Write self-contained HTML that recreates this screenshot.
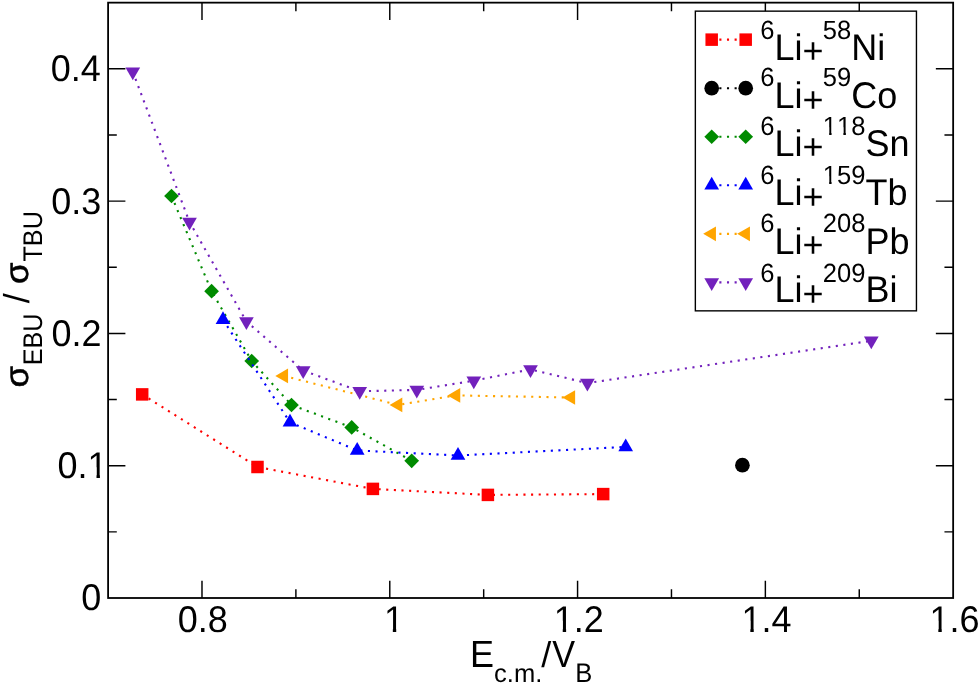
<!DOCTYPE html>
<html><head><meta charset="utf-8"><title>chart</title>
<style>html,body{margin:0;padding:0;background:#fff;}svg{display:block;will-change:transform;}svg text{text-rendering:geometricPrecision;}</style>
</head><body>
<svg width="979" height="684" viewBox="0 0 979 684">
<rect x="0" y="0" width="979" height="684" fill="#ffffff"/>
<defs><clipPath id="c1a"><rect x="-1" y="-36.00" width="13.35" height="25.45"/><rect x="8.93" y="-36.00" width="3.42" height="38.00"/></clipPath><clipPath id="c1b"><rect x="-1" y="-25.56" width="9.81" height="18.07"/><rect x="6.31" y="-25.56" width="2.50" height="27.56"/></clipPath></defs>
<g>
<polyline points="142.2,394.4 257.5,467.0 372.9,488.9 487.9,494.9 603.2,494.1" fill="none" stroke="#ff0000" stroke-width="2.1" stroke-dasharray="2.1 5.53"/>
<rect x="135.95" y="388.15" width="12.49" height="12.49" fill="#ff0000"/>
<rect x="251.25" y="460.75" width="12.49" height="12.49" fill="#ff0000"/>
<rect x="366.65" y="482.65" width="12.49" height="12.49" fill="#ff0000"/>
<rect x="481.65" y="488.65" width="12.49" height="12.49" fill="#ff0000"/>
<rect x="596.95" y="487.85" width="12.49" height="12.49" fill="#ff0000"/>
</g>
<g>
<circle cx="742.40" cy="465.20" r="7.35" fill="#000000"/>
</g>
<g>
<polyline points="171.5,196.0 211.6,291.2 251.7,361.0 291.5,405.0 351.7,427.4 411.7,460.8" fill="none" stroke="#008b00" stroke-width="2.1" stroke-dasharray="2.1 5.53"/>
<polygon points="171.50,188.65 178.85,196.00 171.50,203.35 164.15,196.00" fill="#008b00"/>
<polygon points="211.60,283.85 218.95,291.20 211.60,298.55 204.25,291.20" fill="#008b00"/>
<polygon points="251.70,353.65 259.05,361.00 251.70,368.35 244.35,361.00" fill="#008b00"/>
<polygon points="291.50,397.65 298.85,405.00 291.50,412.35 284.15,405.00" fill="#008b00"/>
<polygon points="351.70,420.05 359.05,427.40 351.70,434.75 344.35,427.40" fill="#008b00"/>
<polygon points="411.70,453.45 419.05,460.80 411.70,468.15 404.35,460.80" fill="#008b00"/>
</g>
<g>
<polyline points="223.0,319.8 290.0,422.3 357.2,450.4 458.0,455.5 625.7,446.9" fill="none" stroke="#0000ff" stroke-width="2.1" stroke-dasharray="2.1 5.53"/>
<polygon points="223.00,311.31 215.65,324.04 230.35,324.04" fill="#0000ff"/>
<polygon points="290.00,413.81 282.65,426.54 297.35,426.54" fill="#0000ff"/>
<polygon points="357.20,441.91 349.85,454.64 364.55,454.64" fill="#0000ff"/>
<polygon points="458.00,447.01 450.65,459.74 465.35,459.74" fill="#0000ff"/>
<polygon points="625.70,438.41 618.35,451.14 633.05,451.14" fill="#0000ff"/>
</g>
<g>
<polyline points="283.8,375.9 398.1,404.9 456.0,395.4 570.9,397.5" fill="none" stroke="#ffa500" stroke-width="2.1" stroke-dasharray="2.1 5.53"/>
<polygon points="275.31,375.90 288.04,368.55 288.04,383.25" fill="#ffa500"/>
<polygon points="389.61,404.90 402.34,397.55 402.34,412.25" fill="#ffa500"/>
<polygon points="447.51,395.40 460.24,388.05 460.24,402.75" fill="#ffa500"/>
<polygon points="562.41,397.50 575.14,390.15 575.14,404.85" fill="#ffa500"/>
</g>
<g>
<polyline points="132.8,71.8 189.5,222.0 246.4,321.5 303.2,370.5 359.7,391.3 416.8,389.9 473.8,380.7 530.5,369.4 587.4,383.1 871.3,340.8" fill="none" stroke="#7221bc" stroke-width="2.1" stroke-dasharray="2.1 5.53"/>
<polygon points="132.80,80.29 125.45,67.56 140.15,67.56" fill="#7221bc"/>
<polygon points="189.50,230.49 182.15,217.76 196.85,217.76" fill="#7221bc"/>
<polygon points="246.40,329.99 239.05,317.26 253.75,317.26" fill="#7221bc"/>
<polygon points="303.20,378.99 295.85,366.26 310.55,366.26" fill="#7221bc"/>
<polygon points="359.70,399.79 352.35,387.06 367.05,387.06" fill="#7221bc"/>
<polygon points="416.80,398.39 409.45,385.66 424.15,385.66" fill="#7221bc"/>
<polygon points="473.80,389.19 466.45,376.46 481.15,376.46" fill="#7221bc"/>
<polygon points="530.50,377.89 523.15,365.16 537.85,365.16" fill="#7221bc"/>
<polygon points="587.40,391.59 580.05,378.86 594.75,378.86" fill="#7221bc"/>
<polygon points="871.30,349.29 863.95,336.56 878.65,336.56" fill="#7221bc"/>
</g>
<g stroke="#000" stroke-width="1.45" fill="none">
<path d="M201.99 598.0 v-17.3 M201.99 2.65 v17.3"/>
<path d="M295.89 598.0 v-8.7 M295.89 2.65 v8.7"/>
<path d="M389.78 598.0 v-17.3 M389.78 2.65 v17.3"/>
<path d="M483.68 598.0 v-8.7 M483.68 2.65 v8.7"/>
<path d="M577.57 598.0 v-17.3 M577.57 2.65 v17.3"/>
<path d="M671.47 598.0 v-8.7 M671.47 2.65 v8.7"/>
<path d="M765.36 598.0 v-17.3 M765.36 2.65 v17.3"/>
<path d="M859.26 598.0 v-8.7 M859.26 2.65 v8.7"/>
<path d="M108.1 531.85 h8.7 M953.15 531.85 h-8.7"/>
<path d="M108.1 465.70 h17.3 M953.15 465.70 h-17.3"/>
<path d="M108.1 399.55 h8.7 M953.15 399.55 h-8.7"/>
<path d="M108.1 333.40 h17.3 M953.15 333.40 h-17.3"/>
<path d="M108.1 267.25 h8.7 M953.15 267.25 h-8.7"/>
<path d="M108.1 201.10 h17.3 M953.15 201.10 h-17.3"/>
<path d="M108.1 134.95 h8.7 M953.15 134.95 h-8.7"/>
<path d="M108.1 68.80 h17.3 M953.15 68.80 h-17.3"/>
</g>
<rect x="108.1" y="2.65" width="845.05" height="595.35" fill="none" stroke="#000" stroke-width="1.8"/>
<text transform="translate(50.76,81.25) scale(1,1.03)" font-size="36.00" font-family="Liberation Sans, sans-serif" fill="#000" xml:space="preserve">0.4</text>
<text transform="translate(51.29,213.55) scale(1,1.03)" font-size="36.00" font-family="Liberation Sans, sans-serif" fill="#000" xml:space="preserve">0.3</text>
<text transform="translate(51.52,345.85) scale(1,1.03)" font-size="36.00" font-family="Liberation Sans, sans-serif" fill="#000" xml:space="preserve">0.2</text>
<text transform="translate(81.13,610.45) scale(1,1.03)" font-size="36.00" font-family="Liberation Sans, sans-serif" fill="#000" xml:space="preserve">0</text>
<text transform="translate(57.55,478.15) scale(1,1.03)" font-size="36.00" font-family="Liberation Sans, sans-serif" fill="#000" xml:space="preserve">0.</text><text transform="translate(87.57,478.15) scale(1,1.03)" font-size="36.00" font-family="Liberation Sans, sans-serif" fill="#000" xml:space="preserve" clip-path="url(#c1a)">1</text>
<text transform="translate(177.70,631.70) scale(1,1.03)" font-size="36.00" font-family="Liberation Sans, sans-serif" fill="#000" xml:space="preserve">0.8</text>
<text transform="translate(383.90,631.70) scale(1,1.03)" font-size="36.00" font-family="Liberation Sans, sans-serif" fill="#000" xml:space="preserve" clip-path="url(#c1a)">1</text>
<text transform="translate(553.80,631.70) scale(1,1.03)" font-size="36.00" font-family="Liberation Sans, sans-serif" fill="#000" xml:space="preserve" clip-path="url(#c1a)">1</text><text transform="translate(573.82,631.70) scale(1,1.03)" font-size="36.00" font-family="Liberation Sans, sans-serif" fill="#000" xml:space="preserve">.2</text>
<text transform="translate(741.40,631.70) scale(1,1.03)" font-size="36.00" font-family="Liberation Sans, sans-serif" fill="#000" xml:space="preserve" clip-path="url(#c1a)">1</text><text transform="translate(761.42,631.70) scale(1,1.03)" font-size="36.00" font-family="Liberation Sans, sans-serif" fill="#000" xml:space="preserve">.4</text>
<text transform="translate(929.40,631.70) scale(1,1.03)" font-size="36.00" font-family="Liberation Sans, sans-serif" fill="#000" xml:space="preserve" clip-path="url(#c1a)">1</text><text transform="translate(949.42,631.70) scale(1,1.03)" font-size="36.00" font-family="Liberation Sans, sans-serif" fill="#000" xml:space="preserve">.6</text>
<text transform="translate(470.05,666.80) scale(1.0,1.055)" font-size="36.00" font-family="Liberation Sans, sans-serif" fill="#000" xml:space="preserve">E</text>
<text transform="translate(494.06,681.70) scale(1.0,1.0)" font-size="25.56" font-family="Liberation Sans, sans-serif" fill="#000" xml:space="preserve">c.m.</text>
<text transform="translate(541.33,666.80) scale(1.0,1.0)" font-size="36.00" font-family="Liberation Sans, sans-serif" fill="#000" xml:space="preserve">/</text>
<text transform="translate(552.34,666.80) scale(0.95,1.055)" font-size="36.00" font-family="Liberation Sans, sans-serif" fill="#000" xml:space="preserve">V</text>
<text transform="translate(575.15,681.70) scale(1.0,1.055)" font-size="25.56" font-family="Liberation Sans, sans-serif" fill="#000" xml:space="preserve">B</text>
<g transform="translate(28.55,0) rotate(-90)">
<text transform="translate(-387.40,-1.00) scale(1.0,0.94)" font-size="35.00" font-family="Liberation Sans, sans-serif" fill="#000" xml:space="preserve" stroke="#000" stroke-width="0.55" stroke-linejoin="round">σ</text>
<text transform="translate(-365.30,13.70) scale(0.985,1.055)" font-size="25.56" font-family="Liberation Sans, sans-serif" fill="#000" xml:space="preserve">EBU</text>
<text transform="translate(-303.30,0.00) scale(1.0,1.0)" font-size="36.00" font-family="Liberation Sans, sans-serif" fill="#000" xml:space="preserve">/</text>
<text transform="translate(-284.10,-1.00) scale(1.0,0.94)" font-size="35.00" font-family="Liberation Sans, sans-serif" fill="#000" xml:space="preserve" stroke="#000" stroke-width="0.55" stroke-linejoin="round">σ</text>
<text transform="translate(-261.50,13.70) scale(0.985,1.055)" font-size="25.56" font-family="Liberation Sans, sans-serif" fill="#000" xml:space="preserve">TBU</text>
</g>
<rect x="695.35" y="11.15" width="221.10" height="299.70" fill="#fff" stroke="#000" stroke-width="1.4"/>
<path d="M711.7 39.65 H745.7" stroke="#ff0000" stroke-width="2.1" stroke-dasharray="2.1 5.53" fill="none"/>
<rect x="705.45" y="33.40" width="12.49" height="12.49" fill="#ff0000"/>
<rect x="739.45" y="33.40" width="12.49" height="12.49" fill="#ff0000"/>
<text transform="translate(760.20,38.80) scale(1,1.03)" font-size="25.56" font-family="Liberation Sans, sans-serif" fill="#000" xml:space="preserve">6</text>
<text transform="translate(774.42,59.50) scale(1,1.03)" font-size="36.00" font-family="Liberation Sans, sans-serif" fill="#000" xml:space="preserve">Li</text>
<text transform="translate(802.43,63.00) scale(1,1.0)" font-size="36.00" font-family="Liberation Sans, sans-serif" fill="#000" xml:space="preserve">+</text>
<text transform="translate(822.86,38.80) scale(1,1.03)" font-size="25.56" font-family="Liberation Sans, sans-serif" fill="#000" xml:space="preserve">58</text>
<text transform="translate(851.19,59.50) scale(1,1.03)" font-size="36.00" font-family="Liberation Sans, sans-serif" fill="#000" xml:space="preserve">Ni</text>
<path d="M711.7 88.20 H745.7" stroke="#000000" stroke-width="2.1" stroke-dasharray="2.1 5.53" fill="none"/>
<circle cx="711.70" cy="88.20" r="7.35" fill="#000000"/>
<circle cx="745.70" cy="88.20" r="7.35" fill="#000000"/>
<text transform="translate(760.20,85.80) scale(1,1.03)" font-size="25.56" font-family="Liberation Sans, sans-serif" fill="#000" xml:space="preserve">6</text>
<text transform="translate(774.42,108.00) scale(1,1.03)" font-size="36.00" font-family="Liberation Sans, sans-serif" fill="#000" xml:space="preserve">Li</text>
<text transform="translate(802.43,111.50) scale(1,1.0)" font-size="36.00" font-family="Liberation Sans, sans-serif" fill="#000" xml:space="preserve">+</text>
<text transform="translate(822.86,85.80) scale(1,1.03)" font-size="25.56" font-family="Liberation Sans, sans-serif" fill="#000" xml:space="preserve">59</text>
<text transform="translate(851.19,108.00) scale(1,1.03)" font-size="36.00" font-family="Liberation Sans, sans-serif" fill="#000" xml:space="preserve">Co</text>
<path d="M711.7 136.75 H745.7" stroke="#008b00" stroke-width="2.1" stroke-dasharray="2.1 5.53" fill="none"/>
<polygon points="711.70,129.40 719.05,136.75 711.70,144.10 704.35,136.75" fill="#008b00"/>
<polygon points="745.70,129.40 753.05,136.75 745.70,144.10 738.35,136.75" fill="#008b00"/>
<text transform="translate(760.20,135.00) scale(1,1.03)" font-size="25.56" font-family="Liberation Sans, sans-serif" fill="#000" xml:space="preserve">6</text>
<text transform="translate(774.42,155.70) scale(1,1.03)" font-size="36.00" font-family="Liberation Sans, sans-serif" fill="#000" xml:space="preserve">Li</text>
<text transform="translate(802.43,159.40) scale(1,1.0)" font-size="36.00" font-family="Liberation Sans, sans-serif" fill="#000" xml:space="preserve">+</text>
<text transform="translate(822.86,135.00) scale(1,1.03)" font-size="25.56" font-family="Liberation Sans, sans-serif" fill="#000" xml:space="preserve" clip-path="url(#c1b)">1</text><text transform="translate(837.07,135.00) scale(1,1.03)" font-size="25.56" font-family="Liberation Sans, sans-serif" fill="#000" xml:space="preserve" clip-path="url(#c1b)">1</text><text transform="translate(851.29,135.00) scale(1,1.03)" font-size="25.56" font-family="Liberation Sans, sans-serif" fill="#000" xml:space="preserve">8</text>
<text transform="translate(865.40,155.70) scale(1,1.03)" font-size="36.00" font-family="Liberation Sans, sans-serif" fill="#000" xml:space="preserve">Sn</text>
<path d="M711.7 185.30 H745.7" stroke="#0000ff" stroke-width="2.1" stroke-dasharray="2.1 5.53" fill="none"/>
<polygon points="711.70,176.81 704.35,189.54 719.05,189.54" fill="#0000ff"/>
<polygon points="745.70,176.81 738.35,189.54 753.05,189.54" fill="#0000ff"/>
<text transform="translate(760.20,184.00) scale(1,1.03)" font-size="25.56" font-family="Liberation Sans, sans-serif" fill="#000" xml:space="preserve">6</text>
<text transform="translate(774.42,204.70) scale(1,1.03)" font-size="36.00" font-family="Liberation Sans, sans-serif" fill="#000" xml:space="preserve">Li</text>
<text transform="translate(802.43,209.00) scale(1,1.0)" font-size="36.00" font-family="Liberation Sans, sans-serif" fill="#000" xml:space="preserve">+</text>
<text transform="translate(822.86,184.00) scale(1,1.03)" font-size="25.56" font-family="Liberation Sans, sans-serif" fill="#000" xml:space="preserve" clip-path="url(#c1b)">1</text><text transform="translate(837.07,184.00) scale(1,1.03)" font-size="25.56" font-family="Liberation Sans, sans-serif" fill="#000" xml:space="preserve">59</text>
<text transform="translate(865.40,204.70) scale(1,1.03)" font-size="36.00" font-family="Liberation Sans, sans-serif" fill="#000" xml:space="preserve">Tb</text>
<path d="M711.7 233.85 H745.7" stroke="#ffa500" stroke-width="2.1" stroke-dasharray="2.1 5.53" fill="none"/>
<polygon points="703.21,233.85 715.94,226.50 715.94,241.20" fill="#ffa500"/>
<polygon points="737.21,233.85 749.94,226.50 749.94,241.20" fill="#ffa500"/>
<text transform="translate(760.20,232.30) scale(1,1.03)" font-size="25.56" font-family="Liberation Sans, sans-serif" fill="#000" xml:space="preserve">6</text>
<text transform="translate(774.42,253.70) scale(1,1.03)" font-size="36.00" font-family="Liberation Sans, sans-serif" fill="#000" xml:space="preserve">Li</text>
<text transform="translate(802.43,257.40) scale(1,1.0)" font-size="36.00" font-family="Liberation Sans, sans-serif" fill="#000" xml:space="preserve">+</text>
<text transform="translate(822.86,232.30) scale(1,1.03)" font-size="25.56" font-family="Liberation Sans, sans-serif" fill="#000" xml:space="preserve">208</text>
<text transform="translate(865.40,253.70) scale(1,1.03)" font-size="36.00" font-family="Liberation Sans, sans-serif" fill="#000" xml:space="preserve">Pb</text>
<path d="M711.7 282.40 H745.7" stroke="#7221bc" stroke-width="2.1" stroke-dasharray="2.1 5.53" fill="none"/>
<polygon points="711.70,290.89 704.35,278.16 719.05,278.16" fill="#7221bc"/>
<polygon points="745.70,290.89 738.35,278.16 753.05,278.16" fill="#7221bc"/>
<text transform="translate(760.20,281.60) scale(1,1.03)" font-size="25.56" font-family="Liberation Sans, sans-serif" fill="#000" xml:space="preserve">6</text>
<text transform="translate(774.42,301.80) scale(1,1.03)" font-size="36.00" font-family="Liberation Sans, sans-serif" fill="#000" xml:space="preserve">Li</text>
<text transform="translate(802.43,306.40) scale(1,1.0)" font-size="36.00" font-family="Liberation Sans, sans-serif" fill="#000" xml:space="preserve">+</text>
<text transform="translate(822.86,281.60) scale(1,1.03)" font-size="25.56" font-family="Liberation Sans, sans-serif" fill="#000" xml:space="preserve">209</text>
<text transform="translate(865.40,301.80) scale(1,1.03)" font-size="36.00" font-family="Liberation Sans, sans-serif" fill="#000" xml:space="preserve">Bi</text>
</svg>
</body></html>
